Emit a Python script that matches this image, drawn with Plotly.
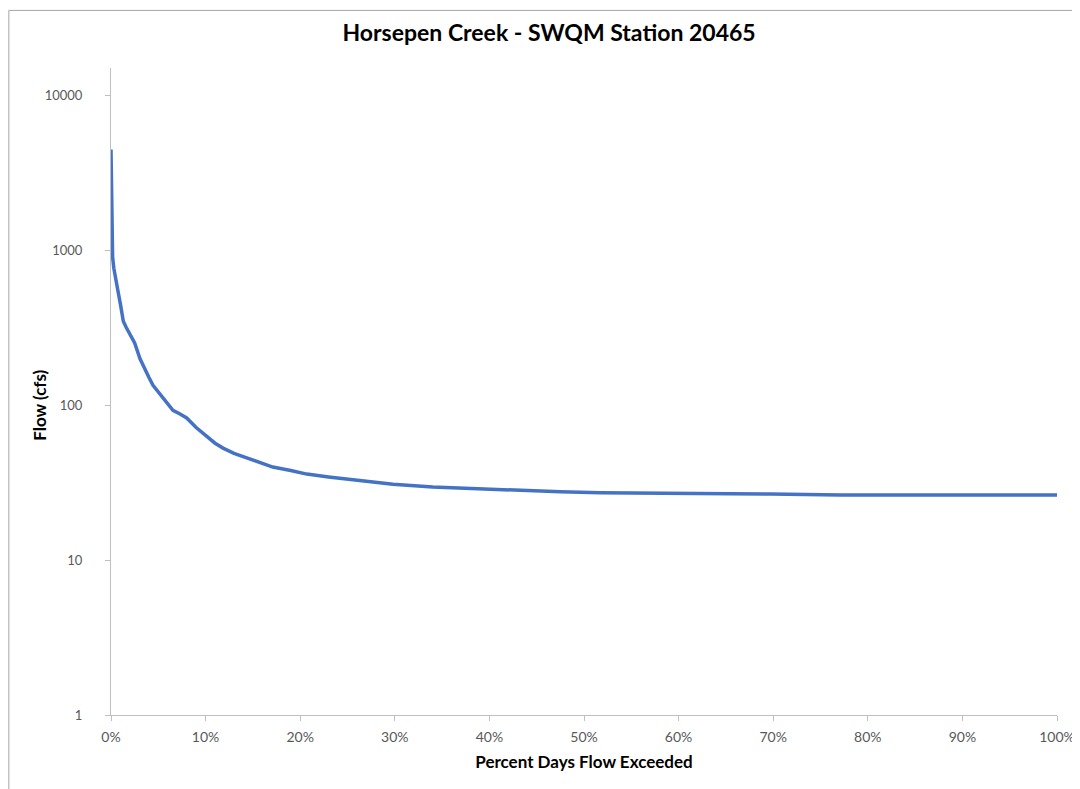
import plotly.graph_objects as go

# Flow duration curve
pct_exceeded = [0, 0.03, 0.06, 0.1, 0.17, 0.3, 0.5, 0.77, 1.0, 1.15, 1.3, 1.6, 2.0, 2.5,
                3.07, 3.5, 4.0, 4.44, 4.83, 5.5, 6.0, 6.55, 7.3, 8.0, 9.0, 10.1, 11.0,
                11.84, 13.0, 14.5, 15.5, 17.1, 19.0, 20.7, 23.0, 26.0, 29.8, 34.0, 41.1,
                47.5, 51.7, 54.9, 59.8, 61.9, 69.7, 77.1, 85.0, 100]
flow_cfs = [4500, 2500, 1800, 1300, 910, 770, 640, 535, 450, 400, 350, 320, 290, 253,
            200, 175, 152, 135, 126, 112, 102, 93, 88, 83, 72, 63, 57,
            53, 49, 45.5, 43.5, 40, 38, 36, 34.5, 33, 31, 29.7, 28.5,
            27.7, 27.3, 27.3, 27.1, 27.0, 26.8, 26.4, 26.4, 26.4]

x_ticks = [0, 10, 20, 30, 40, 50, 60, 70, 80, 90, 100]
x_tick_labels = ["0%", "10%", "20%", "30%", "40%", "50%", "60%", "70%", "80%", "90%", "100%"]
y_ticks = [1, 10, 100, 1000, 10000]

FONT = "Lato, Carlito, Calibri, sans-serif"
AXIS_GRAY = "#BFBFBF"
TICK_COLOR = "#595959"

fig = go.Figure(go.Scatter(
    x=pct_exceeded, y=flow_cfs,
    mode="lines",
    line=dict(color="#4472C4", width=3.5),
    showlegend=False,
))

# page has an 8px body margin, so the figure sits 8px right/down in the window
fig.update_layout(
    width=1080, height=789,
    paper_bgcolor="white", plot_bgcolor="white",
    font=dict(family=FONT, size=13, color=TICK_COLOR),
    margin=dict(l=103, r=31, t=60, b=82),
    title=dict(
        text="<b>Horsepen Creek - SWQM Station 20465</b>",
        font=dict(family=FONT, size=23, color="black"),
        x=0.501, xanchor="center", xref="container",
        y=0.968, yanchor="middle", yref="container",
    ),
    shapes=[dict(
        type="rect", xref="paper", yref="paper",
        x0=-0.108, x1=1.05, y0=-0.15, y1=1.089,
        line=dict(color="#A6A6A6", width=1), fillcolor="rgba(0,0,0,0)",
        layer="below",
    )],
    annotations=[dict(
        text="<b>Flow (cfs)</b>", textangle=-90,
        xref="paper", yref="paper", x=-0.075, y=0.478,
        xanchor="center", yanchor="middle", showarrow=False,
        font=dict(family=FONT, size=17, color="black"),
    )],
)

fig.update_xaxes(
    range=[0, 100], tickvals=x_ticks, ticktext=x_tick_labels,
    showgrid=False, zeroline=False,
    showline=True, linecolor=AXIS_GRAY, linewidth=1,
    ticks="outside", ticklen=5, tickcolor=AXIS_GRAY,
    tickfont=dict(size=14, color=TICK_COLOR),
    ticklabelstandoff=4,
    title=dict(text="<b>Percent Days Flow Exceeded</b>",
               font=dict(family=FONT, size=17, color="black"), standoff=12),
)
fig.update_yaxes(
    type="log", range=[0, 4.18], tickvals=y_ticks, tickformat="d",
    showgrid=False, zeroline=False,
    showline=True, linecolor=AXIS_GRAY, linewidth=1,
    ticks="outside", ticklen=5, tickcolor=AXIS_GRAY,
    tickfont=dict(size=13, color=TICK_COLOR),
    ticklabelstandoff=20,
)

fig.write_html("out.html")
